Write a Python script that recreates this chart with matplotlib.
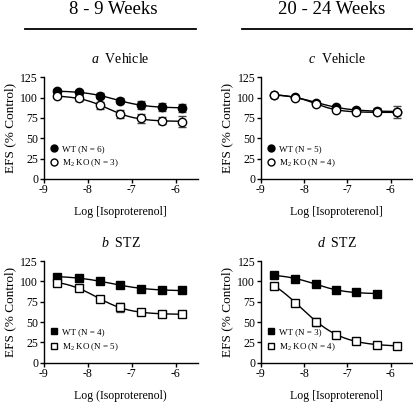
import numpy as np
import matplotlib
matplotlib.use('Agg')
import matplotlib.pyplot as plt
from matplotlib.lines import Line2D

plt.rcParams['font.family'] = ['Liberation Serif', 'DejaVu Serif']
plt.rcParams['mathtext.fontset'] = 'custom'
plt.rcParams['mathtext.rm'] = 'Liberation Serif'
plt.rcParams['mathtext.it'] = 'Liberation Serif:italic'
plt.rcParams['axes.unicode_minus'] = False

# log concentrations of isoproterenol
log_iso = [-8.7, -8.2, -7.72, -7.26, -6.79, -6.31, -5.85]

# a: 8-9 weeks, vehicle
a_wt = [108, 106.5, 102.5, 96.5, 90.5, 88.5, 87.5]
a_wt_err = [2.5, 3, 3, 3.5, 5, 5, 5]
a_ko = [101.5, 99.5, 90.5, 80, 74.5, 71.5, 70.5]
a_ko_err = [2, 3, 4, 5, 5.5, 4.5, 7]

# b: 8-9 weeks, STZ
b_wt = [106, 104, 100, 96, 91, 89.5, 89]
b_wt_err = [1.5, 1.5, 1.5, 1.5, 1.5, 1.5, 1.5]
b_ko = [98.5, 92, 78, 68, 62.5, 60, 59.5]
b_ko_err = [2, 4, 3, 5, 4, 3, 3]

# c: 20-24 weeks, vehicle
c_wt = [103.5, 100.5, 94, 88, 85, 84, 82.5]
c_wt_err = [1, 1, 2, 2, 2, 3, 7]
c_ko = [103.5, 100, 92.5, 85, 82.5, 82, 82]
c_ko_err = [1, 1, 1.5, 2, 2, 2, 2]

# d: 20-24 weeks, STZ
d_wt = [107.5, 103.5, 96.5, 89.5, 86.5, 85]
d_wt_err = [1, 1, 1, 1, 1, 1]
d_ko = [95, 74, 50.5, 34.5, 27, 22, 20.5]
d_ko_err = [3, 3, 5, 3, 2, 2, 2]


def fit_curve(x, y):
    # simple sigmoidal dose-response fit (grid over logEC50 and slope)
    x = np.asarray(x)
    y = np.asarray(y)
    best = None
    for ec in np.linspace(-9.5, -5.5, 161):
        for h in np.linspace(0.4, 2.5, 43):
            f = 1.0 / (1.0 + 10 ** ((x - ec) * h))
            A = np.vstack([np.ones_like(f), f]).T
            coef, *_ = np.linalg.lstsq(A, y, rcond=None)
            res = np.sum((A @ coef - y) ** 2)
            if best is None or res < best[0]:
                best = (res, ec, h, coef)
    _, ec, h, coef = best
    xs = np.linspace(x.min(), x.max(), 200)
    ys = coef[0] + coef[1] / (1.0 + 10 ** ((xs - ec) * h))
    return xs, ys


def panel(ax, wt, wt_err, ko, ko_err, marker, n_wt, n_ko, title, xlabel):
    x_wt = log_iso[:len(wt)]
    ms = 6 if marker == 'o' else 5.5
    for x, y, err, face in [(x_wt, wt, wt_err, 'black'), (log_iso, ko, ko_err, 'white')]:
        xs, ys = fit_curve(x, y)
        ax.plot(xs, ys, color='black', lw=1.0, zorder=2)
        ax.errorbar(x, y, yerr=err, fmt='none', ecolor='#444444', elinewidth=1.0,
                    capsize=3, capthick=1.0, zorder=3)
        ax.plot(x, y, ls='none', marker=marker, ms=ms, mfc=face, mec='black',
                mew=1.0, zorder=4)
    handles = [Line2D([], [], ls='none', marker=marker, ms=5, mfc='black', mec='black'),
               Line2D([], [], ls='none', marker=marker, ms=5, mfc='white', mec='black')]
    ax.legend(handles, ['WT (N = %d)' % n_wt, 'M$_2$ KO (N = %d)' % n_ko],
              loc='lower left', bbox_to_anchor=(0.0, 0.04), frameon=False,
              fontsize=6.5, handletextpad=0.4, labelspacing=0.55, handlelength=1.0,
              borderaxespad=0.2)
    ax.set_xlim(-9, -5.5)
    ax.set_ylim(0, 125)
    ax.set_xticks([-9, -8, -7, -6])
    ax.set_yticks([0, 25, 50, 75, 100, 125])
    ax.spines['top'].set_visible(False)
    ax.spines['right'].set_visible(False)
    for s in ['left', 'bottom']:
        ax.spines[s].set_linewidth(1.0)
    ax.tick_params(direction='out', length=3, width=1.0, labelsize=8.5, pad=1)
    ax.set_ylabel('EFS (% Control)', fontsize=9.5, labelpad=3)
    ax.set_xlabel(xlabel, fontsize=8.5, labelpad=7)
    ax.set_title(title, fontsize=10, pad=10)


fig = plt.figure(figsize=(4.14, 4.03), dpi=100)
ax_a = fig.add_axes([0.1056, 0.556, 0.372, 0.252])
ax_b = fig.add_axes([0.1056, 0.100, 0.372, 0.252])
ax_c = fig.add_axes([0.630, 0.556, 0.366, 0.252])
ax_d = fig.add_axes([0.630, 0.100, 0.366, 0.252])

panel(ax_a, a_wt, a_wt_err, a_ko, a_ko_err, 'o', 6, 3, '$a$  Vehicle', 'Log [Isoproterenol]')
panel(ax_b, b_wt, b_wt_err, b_ko, b_ko_err, 's', 4, 5, '$b$  STZ', 'Log (Isoproterenol)')
panel(ax_c, c_wt, c_wt_err, c_ko, c_ko_err, 'o', 5, 4, '$c$  Vehicle', 'Log [Isoproterenol]')
panel(ax_d, d_wt, d_wt_err, d_ko, d_ko_err, 's', 3, 4, '$d$  STZ', 'Log [Isoproterenol]')

fig.text(113 / 414, 1 - 10 / 403, '8 - 9 Weeks', ha='center', va='center', fontsize=13.5)
fig.text(332 / 414, 1 - 10 / 403, '20 - 24 Weeks', ha='center', va='center', fontsize=13.5)
fig.add_artist(Line2D([25 / 414, 196 / 414], [1 - 28.5 / 403] * 2, color='black', lw=1.3))
fig.add_artist(Line2D([242 / 414, 412 / 414], [1 - 28.5 / 403] * 2, color='black', lw=1.3))

fig.savefig('out.png', dpi=100)
